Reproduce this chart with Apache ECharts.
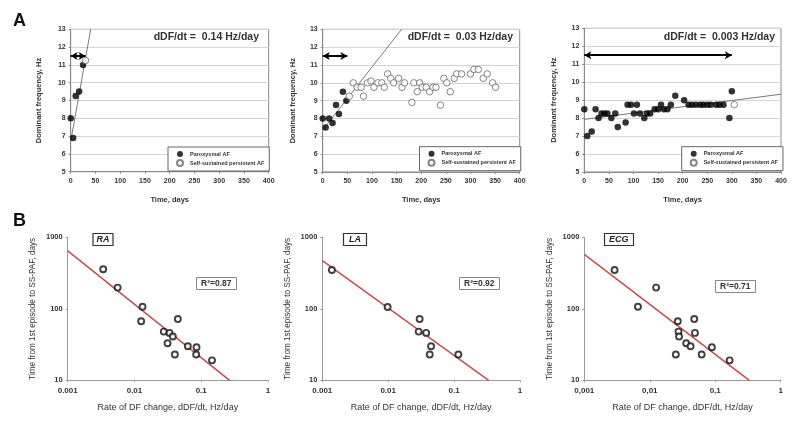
<!DOCTYPE html>
<html><head><meta charset="utf-8">
<script src="https://cdn.jsdelivr.net/npm/echarts@6/dist/echarts.min.js"></script>
<style>html,body{margin:0;padding:0;background:#fff}#c{width:800px;height:425px}</style>
</head><body><div id="c"></div>
<script>
// ---- Panel A data (time, days ; dominant frequency, Hz)
const a1Paroxysmal = [[0,8],[5,6.9],[10,9.25],[17,9.5],[25,11]];
const a1Persistent = [[30,11.25]];
const a1Trend = [[0,6.7],[40.4,13]];
const a1Arrow = [0,30];
const a1Rate = 'dDF/dt =  0.14 Hz/day';

const a2Paroxysmal = [[0,8],[6,7.5],[13,8],[20,7.75],[27,8.75],[33,8.25],[41,9.5],[48,9]];
const a2Persistent = [[54,9.25],[62,10],[70,9.75],[78,9.75],[83,9.25],[91,10],[98,10.1],[104,9.75],[112,10],[120,10],[125,9.75],[132,10.5],[138,10.25],[144,10],[154,10.25],[161,9.75],[166,10],[181,8.9],[185,10],[192,9.5],[197,10],[202,9.75],[210,9.75],[217,9.5],[224,9.75],[230,9.75],[239,8.75],[246,10.25],[252,10],[259,9.5],[267,10.25],[272,10.5],[282,10.5],[300,10.5],[307,10.75],[316,10.75],[326,10.25],[334,10.5],[345,10],[351,9.75]];
const a2Trend = [[0,7.35],[160,13]];
const a2Arrow = [0,50];
const a2Rate = 'dDF/dt =  0.03 Hz/day';

const a3Paroxysmal = [[0,8.5],[6,7],[15,7.25],[23,8.5],[29,8],[35,8.25],[41,8.25],[47,8.25],[55,8],[63,8.25],[68,7.5],[84,7.75],[88,8.75],[95,8.75],[101,8.25],[107,8.75],[113,8.25],[122,8],[127,8.25],[134,8.25],[143,8.5],[150,8.5],[156,8.75],[162,8.5],[169,8.5],[176,8.75],[185,9.25],[203,9],[212,8.75],[219,8.75],[227,8.75],[236,8.75],[242,8.75],[250,8.75],[257,8.75],[268,8.75],[275,8.75],[283,8.75],[295,8],[300,9.5]];
const a3Persistent = [[305,8.75]];
const a3Trend = [[0,7.93],[400,9.33]];
const a3Arrow = [0,300];
const a3Rate = 'dDF/dt =  0.003 Hz/day';

const timeTicks = [0,50,100,150,200,250,300,350,400];
const freqTicks = [5,6,7,8,9,10,11,12,13];

// ---- Panel B data (rate of DF change, Hz/day ; time to SS-PAF, days)
const bRA = [[0.0034,357],[0.0056,198],[0.0132,107],[0.0126,67],[0.0275,48],[0.0335,46],[0.0376,41],[0.0313,33],[0.0447,72],[0.0403,23],[0.063,30],[0.085,29],[0.084,23],[0.145,19]];
const bRAFit = [[0.001,645],[0.266,10]];
const bLA = [[0.0014,349],[0.0098,106],[0.030,72],[0.029,48],[0.0377,46],[0.0447,30],[0.0427,23],[0.116,23]];
const bLAFit = [[0.001,472],[0.335,10]];
const bECG = [[0.0029,349],[0.0125,198],[0.0066,107],[0.0268,67],[0.0478,72],[0.0275,48],[0.028,41],[0.049,46],[0.036,33],[0.042,30],[0.025,23],[0.062,23],[0.089,29],[0.166,19]];
const bECGFit = [[0.001,578],[0.331,10]];
const bLabels = ['RA','LA','ECG'];
const bR2 = ['R\u00b2=0.87','R\u00b2=0.92','R\u00b2=0.71'];
const rateTicksDot = ['0.001','0.01','0.1','1'];
const rateTicksComma = ['0,001','0,01','0,1','1'];

const FONT = 'Liberation Sans, Arial, sans-serif';
const chart = echarts.init(document.getElementById('c'));

const gridsA = [
  {left:70.7, top:29.3, width:198, height:142.4},
  {left:322.7, top:29.3, width:197, height:142.7},
  {left:584.3, top:28.3, width:196.7, height:143.7}
];
const gridsB = [
  {left:67.7, top:237.3, width:200.3, height:143},
  {left:322.3, top:237.3, width:197.7, height:143},
  {left:584.3, top:237.3, width:196.4, height:143}
];
const grid = [];
gridsA.forEach(g=>grid.push(Object.assign({show:true, borderColor:'#8a8a8a', borderWidth:1, backgroundColor:'#fff'}, g)));
gridsB.forEach(g=>grid.push(Object.assign({show:false}, g)));

const xAxis = [], yAxis = [];
const yNameGapA = [28, 26, 26];
for (let i=0;i<3;i++){
  xAxis.push({gridIndex:i, type:'value', min:timeTicks[0], max:timeTicks[timeTicks.length-1], interval:50,
    name:'Time, days', nameLocation:'middle', nameGap:24,
    nameTextStyle:{fontFamily:FONT, fontSize:7.5, fontWeight:'bold', color:'#333'},
    axisLine:{lineStyle:{color:'#8a8a8a'}}, axisTick:{show:true, length:2, lineStyle:{color:'#8a8a8a'}},
    axisLabel:{fontFamily:FONT, fontSize:7, fontWeight:'bold', color:'#333', margin:6},
    splitLine:{show:false}});
  yAxis.push({gridIndex:i, type:'value', min:freqTicks[0], max:freqTicks[freqTicks.length-1], interval:1,
    name:'Dominant frequency, Hz', nameLocation:'middle', nameGap:yNameGapA[i],
    nameTextStyle:{fontFamily:FONT, fontSize:7.5, fontWeight:'bold', color:'#333'},
    axisLine:{show:true, lineStyle:{color:'#8a8a8a'}}, axisTick:{show:true, length:2, lineStyle:{color:'#8a8a8a'}},
    axisLabel:{fontFamily:FONT, fontSize:7, fontWeight:'bold', color:'#333', margin:5},
    splitLine:{show:true, lineStyle:{color:'#d4d4d4', width:1}}});
}
for (let i=0;i<3;i++){
  const labs = i===2 ? rateTicksComma : rateTicksDot;
  xAxis.push({gridIndex:3+i, type:'log', logBase:10, min:0.001, max:1,
    name:'Rate of DF change, dDF/dt, Hz/day', nameLocation:'middle', nameGap:23,
    nameTextStyle:{fontFamily:FONT, fontSize:9, color:'#333'},
    axisLine:{lineStyle:{color:'#9a9a9a'}}, axisTick:{show:true, length:2, lineStyle:{color:'#9a9a9a'}},
    minorTick:{show:false},
    axisLabel:{fontFamily:FONT, fontSize:8, fontWeight:'bold', color:'#333', margin:6,
      formatter:v=>labs[Math.round(Math.log10(v))+3]},
    splitLine:{show:false}});
  yAxis.push({gridIndex:3+i, type:'log', logBase:10, min:10, max:1000,
    name:'Time from 1st episode to SS-PAF, days', nameLocation:'middle', nameGap:31,
    nameTextStyle:{fontFamily:FONT, fontSize:8.2, color:'#333'},
    axisLine:{show:true, lineStyle:{color:'#9a9a9a'}}, axisTick:{show:true, length:2, lineStyle:{color:'#9a9a9a'}},
    axisLabel:{fontFamily:FONT, fontSize:7.5, fontWeight:'bold', color:'#333', margin:5,
      formatter:v=>String(Math.round(v))},
    splitLine:{show:false}});
}

const series = [];
const aPar = [a1Paroxysmal,a2Paroxysmal,a3Paroxysmal];
const aPer = [a1Persistent,a2Persistent,a3Persistent];
const aTr = [a1Trend,a2Trend,a3Trend];
const aAr = [a1Arrow,a2Arrow,a3Arrow];
for (let i=0;i<3;i++){
  series.push({type:'line', xAxisIndex:i, yAxisIndex:i, data:aTr[i], symbol:'none', silent:true,
    lineStyle:{color:'#7a7a7a', width:1}, clip:true, z:2});
  series.push({name:'Paroxysmal AF', type:'scatter', xAxisIndex:i, yAxisIndex:i, data:aPar[i], symbolSize:6.5,
    itemStyle:{color:'#000'}, z:4,
    markLine:{silent:true, symbol:['arrow','arrow'], symbolSize:[6,7], label:{show:false},
      lineStyle:{color:'#000', width:2, type:'solid'},
      data:[[{coord:[aAr[i][0],11.5]},{coord:[aAr[i][1],11.5]}]]}});
  series.push({name:'Self-sustained persistent AF', type:'scatter', xAxisIndex:i, yAxisIndex:i, data:aPer[i], symbolSize:6.5,
    itemStyle:{color:'#fff', borderColor:'#666', borderWidth:1}, z:4});
}
const bPts = [bRA,bLA,bECG];
const bFit = [bRAFit,bLAFit,bECGFit];
for (let i=0;i<3;i++){
  series.push({type:'line', xAxisIndex:3+i, yAxisIndex:3+i, data:bFit[i], symbol:'none', silent:true,
    lineStyle:{color:'#c0504d', width:1.5}, clip:true, z:2});
  series.push({type:'scatter', xAxisIndex:3+i, yAxisIndex:3+i, data:bPts[i], symbolSize:6,
    itemStyle:{color:'#fff', borderColor:'#111', borderWidth:1.9}, z:4});
}

const legendPos = [{left:168,top:147},{left:419.5,top:146.7},{left:681.7,top:146.7}];
const legend = legendPos.map(p=>({left:p.left, top:p.top, orient:'vertical',
  data:['Paroxysmal AF','Self-sustained persistent AF'], itemWidth:6, itemHeight:6, itemGap:2,
  padding:[4,5,4,8], borderColor:'#666', borderWidth:1, backgroundColor:'#fff', selectedMode:false,
  textStyle:{fontFamily:FONT, fontSize:5.5, fontWeight:'bold', color:'#333', padding:[0,0,0,2]}}));

const title = [
  {text:'A', left:13, top:12, textStyle:{fontFamily:FONT, fontSize:18, fontWeight:'bold', color:'#111'}, padding:0},
  {text:'B', left:13, top:212, textStyle:{fontFamily:FONT, fontSize:18, fontWeight:'bold', color:'#111'}, padding:0},
  {text:a1Rate, right:800-259, top:32, padding:0, textStyle:{fontFamily:FONT, fontSize:10.5, fontWeight:'bold', color:'#333'}},
  {text:a2Rate, right:800-513, top:32, padding:0, textStyle:{fontFamily:FONT, fontSize:10.5, fontWeight:'bold', color:'#333'}},
  {text:a3Rate, right:800-775, top:32, padding:0, textStyle:{fontFamily:FONT, fontSize:10.5, fontWeight:'bold', color:'#333'}},
  {text:bLabels[0], left:92.5, top:233, padding:[2,4,2,4], borderColor:'#333', borderWidth:1.2, textStyle:{fontFamily:FONT, fontSize:9, fontWeight:'bold', fontStyle:'italic', color:'#222'}},
  {text:bLabels[1], left:343, top:233, padding:[2,6,2,6], borderColor:'#333', borderWidth:1.2, textStyle:{fontFamily:FONT, fontSize:9, fontWeight:'bold', fontStyle:'italic', color:'#222'}},
  {text:bLabels[2], left:604, top:233, padding:[2,5,2,5], borderColor:'#333', borderWidth:1.2, textStyle:{fontFamily:FONT, fontSize:9, fontWeight:'bold', fontStyle:'italic', color:'#222'}},
  {text:bR2[0], left:196, top:277, padding:[2,5,2,5], borderColor:'#888', borderWidth:1, textStyle:{fontFamily:FONT, fontSize:8.5, fontWeight:'bold', color:'#333'}},
  {text:bR2[1], left:459, top:277, padding:[2,5,2,5], borderColor:'#888', borderWidth:1, textStyle:{fontFamily:FONT, fontSize:8.5, fontWeight:'bold', color:'#333'}},
  {text:bR2[2], left:715, top:280, padding:[2,5,2,5], borderColor:'#888', borderWidth:1, textStyle:{fontFamily:FONT, fontSize:8.5, fontWeight:'bold', color:'#333'}}
];

chart.setOption({animation:false, backgroundColor:'#fff', grid, xAxis, yAxis, series, legend, title});
</script></body></html>
